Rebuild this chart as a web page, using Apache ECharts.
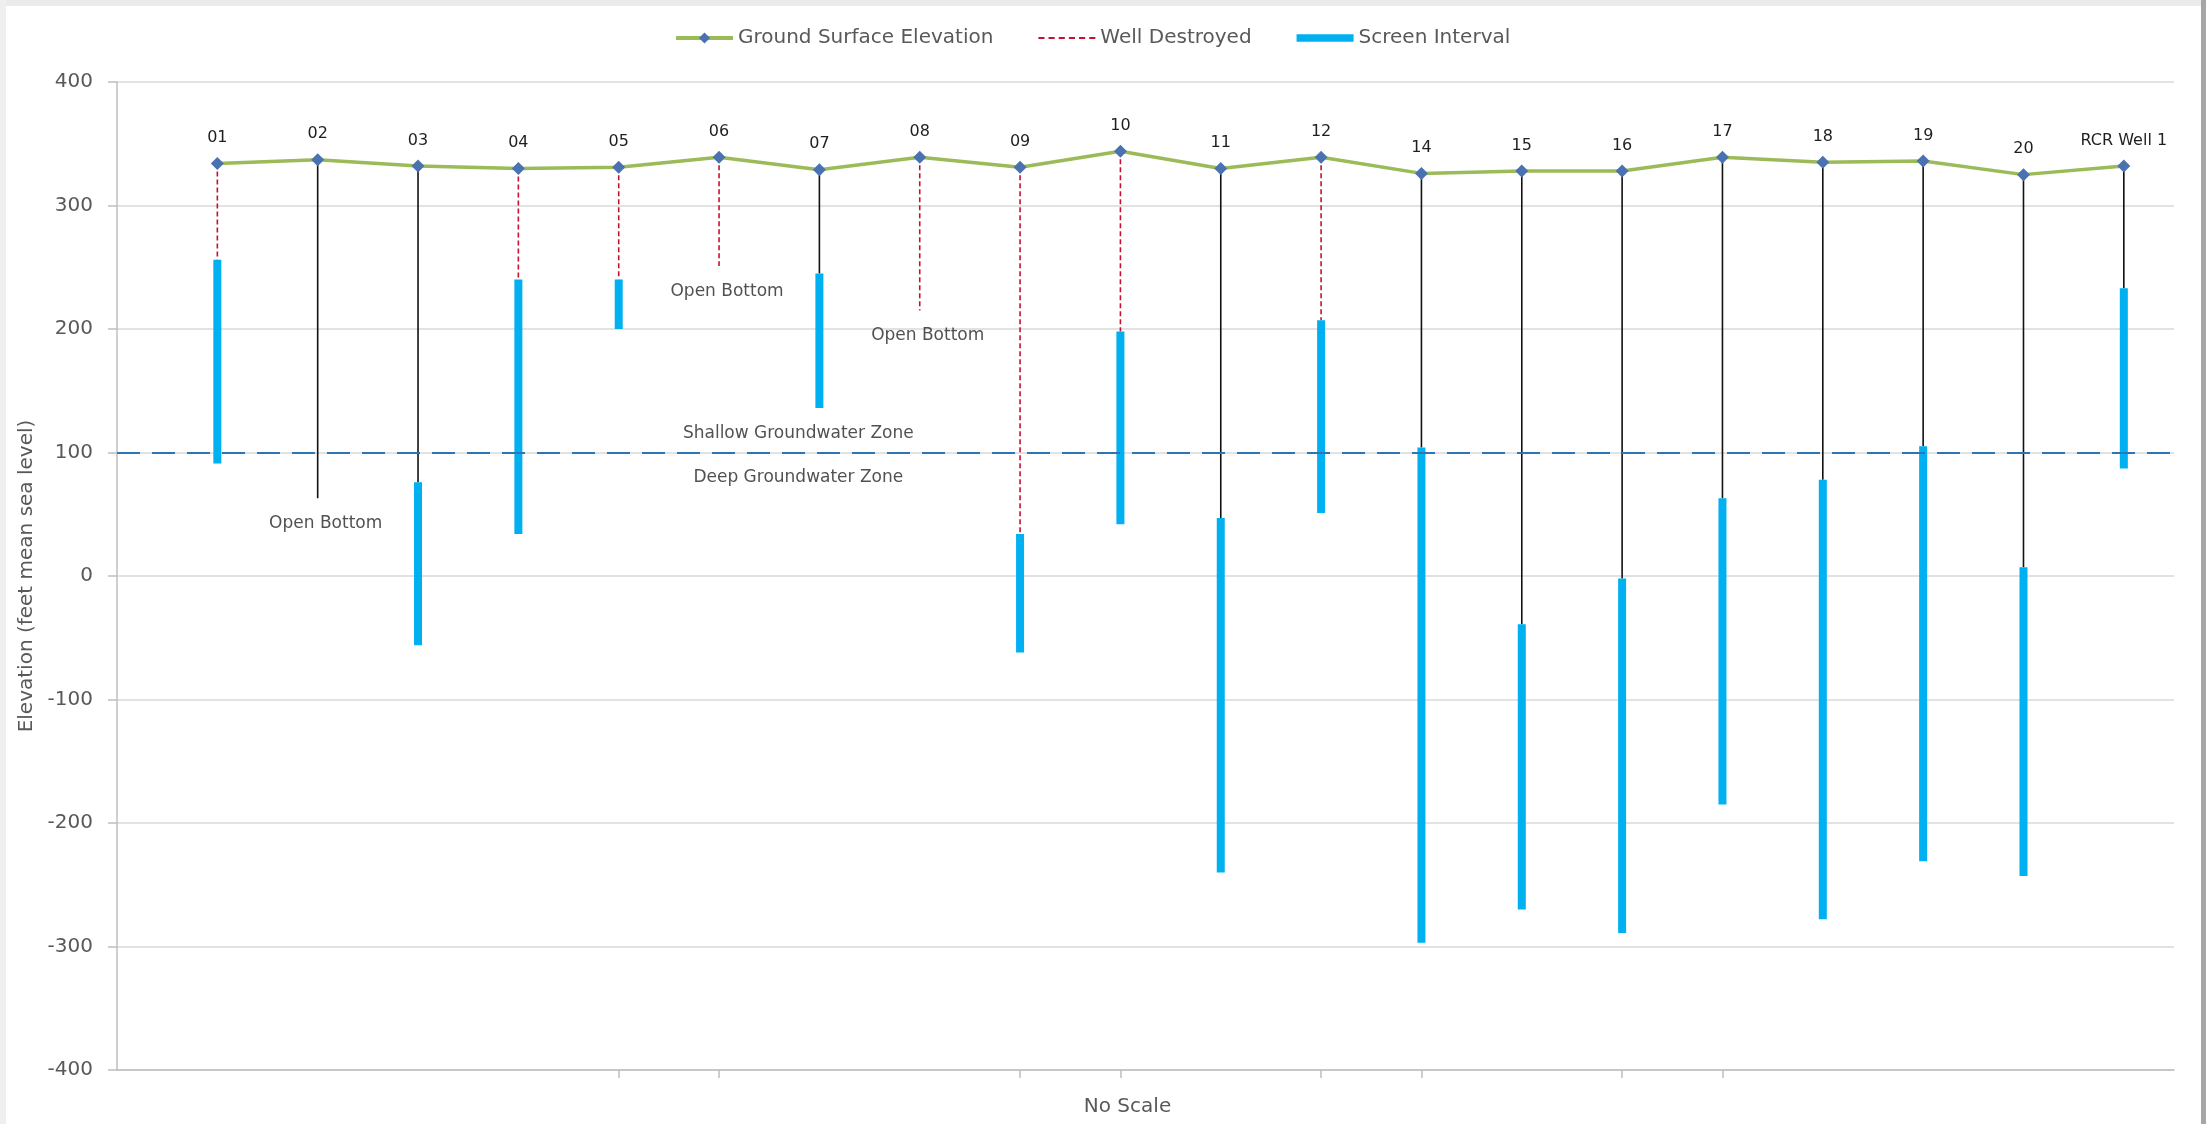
<!DOCTYPE html>
<html>
<head>
<meta charset="utf-8">
<title>Well Construction Elevations</title>
<script src="https://cdn.jsdelivr.net/npm/echarts@6/dist/echarts.min.js"></script>
<style>
  html, body { margin: 0; padding: 0; background: #ffffff; }
  #chart { width: 2206px; height: 1124px; }
</style>
</head>
<body>
<div id="chart"></div>
<script>
// Well identifiers, left to right
const wells = ['01', '02', '03', '04', '05', '06', '07', '08', '09', '10',
               '11', '12', '14', '15', '16', '17', '18', '19', '20', 'RCR Well 1'];

// Ground surface elevation at each well (feet msl)
const groundSurface = [334, 337, 332, 330, 331, 339, 329, 339, 331, 344,
                       330, 339, 326, 328, 328, 339, 335, 336, 325, 332];

// Elevation where the blank casing / open hole ends (feet msl)
const casingBottom = [256, 63, 76, 240, 240, 251, 245, 215, 34, 198,
                      47, 207, 104, -39, -2, 63, 78, 105, 7, 233];

// Screen interval top and bottom (null = no screen)
const screenTop = [256, null, 76, 240, 240, null, 245, null, 34, 198,
                   47, 207, 104, -39, -2, 63, 78, 105, 7, 233];
const screenBottom = [91, null, -56, 34, 200, null, 136, null, -62, 42,
                      -240, 51, -297, -270, -289, -185, -278, -231, -243, 87];

// Wells that have been destroyed
const destroyedWells = ['01', '04', '05', '06', '08', '09', '10', '12'];

// Wells completed as open bottom holes
const openBottomWells = ['02', '06', '08'];

// Boundary between shallow and deep groundwater zones (feet msl)
const zoneBoundary = 100;
const zoneLabelX = 6.79;
const zoneNotes = ['Shallow Groundwater Zone', 'Deep Groundwater Zone'];

// Wells with a tick on the horizontal axis
const axisTickWells = ['05', '06', '09', '10', '12', '14', '16', '17'];

// Vertical axis ticks
const yMin = -400, yMax = 400, yStep = 100;

const FONT = 'DejaVu Sans';
const xOf = i => i + 1;

function segments(filterFn, topArr, bottomArr) {
  const out = [];
  wells.forEach((w, i) => {
    if (!filterFn(w, i)) return;
    if (topArr[i] == null || bottomArr[i] == null) return;
    out.push([xOf(i), topArr[i]], [xOf(i), bottomArr[i]], [xOf(i), null]);
  });
  return out;
}

const intactRisers = segments(w => destroyedWells.indexOf(w) < 0, groundSurface, casingBottom);
const destroyedRisers = segments(w => destroyedWells.indexOf(w) >= 0, groundSurface, casingBottom);
const screens = segments(() => true, screenTop, screenBottom);

// Legend glyphs: a short-dash red line and a solid cyan bar
const dashedIcon = 'path://M0,0H6V2H0Z M10,0H16V2H10Z M20,0H26V2H20Z M30,0H36V2H30Z M40,0H46V2H40Z M50,0H56V2H50Z';
const barIcon = 'path://M0,0H60V8H0Z';

const chart = echarts.init(document.getElementById('chart'), null, { renderer: 'canvas' });

chart.setOption({
  backgroundColor: '#ffffff',
  animation: false,
  textStyle: { fontFamily: FONT },
  graphic: [
    { type: 'rect', shape: { x: 0, y: 0, width: 2206, height: 6 }, style: { fill: '#ebebeb' }, silent: true },
    { type: 'rect', shape: { x: 0, y: 0, width: 6, height: 1124 }, style: { fill: '#efefef' }, silent: true },
    { type: 'rect', shape: { x: 2201, y: 0, width: 5, height: 1124 }, style: { fill: '#a6a6a6' }, silent: true }
  ],
  legend: {
    left: 669,
    top: 23,
    itemWidth: 57,
    itemHeight: 14,
    itemGap: 45,
    data: [
      { name: 'Ground Surface Elevation', lineStyle: { width: 4 } },
      { name: 'Well Destroyed', icon: dashedIcon },
      { name: 'Screen Interval', icon: barIcon }
    ],
    textStyle: { fontFamily: FONT, fontSize: 20, color: '#595959' }
  },
  grid: { left: 117, right: 32, top: 82, bottom: 54 },
  xAxis: {
    type: 'value',
    min: 0,
    max: 20.5,
    name: 'No Scale',
    nameLocation: 'middle',
    nameGap: 27,
    nameTextStyle: { fontFamily: FONT, fontSize: 20, color: '#595959', padding: [0, 36, 0, 0] },
    axisLine: { show: true, onZero: false, lineStyle: { color: '#bfbfbf', width: 1.5 } },
    axisTick: {
      show: true,
      length: 8,
      lineStyle: { color: '#bfbfbf', width: 1.5 },
      customValues: axisTickWells.map(w => xOf(wells.indexOf(w)))
    },
    axisLabel: { show: false },
    splitLine: { show: false }
  },
  yAxis: {
    type: 'value',
    min: yMin,
    max: yMax,
    interval: yStep,
    name: 'Elevation (feet mean sea level)',
    nameLocation: 'middle',
    nameGap: 78,
    nameTextStyle: { fontFamily: FONT, fontSize: 20, color: '#595959' },
    axisLine: { show: true, onZero: false, lineStyle: { color: '#bfbfbf', width: 1.5 } },
    axisTick: { show: true, length: 9, lineStyle: { color: '#bfbfbf', width: 1.5 } },
    axisLabel: { fontFamily: FONT, fontSize: 20, color: '#595959', margin: 24 },
    splitLine: { show: true, lineStyle: { color: '#d9d9d9', width: 1.5 } }
  },
  series: [
    {
      name: 'Casing',
      type: 'line',
      data: intactRisers,
      symbol: 'none',
      connectNulls: false,
      silent: true,
      lineStyle: { color: '#111111', width: 1.6 },
      z: 2
    },
    {
      name: 'Well Destroyed',
      type: 'line',
      data: destroyedRisers,
      symbol: 'none',
      connectNulls: false,
      silent: true,
      color: '#c8102e',
      lineStyle: { color: '#c8102e', width: 1.6, type: [5, 3] },
      z: 2
    },
    {
      name: 'Screen Interval',
      type: 'line',
      data: screens,
      symbol: 'none',
      connectNulls: false,
      silent: true,
      color: '#00b0f0',
      lineStyle: { color: '#00b0f0', width: 8, cap: 'butt' },
      z: 3
    },
    {
      name: 'Ground Surface Elevation',
      type: 'line',
      data: wells.map((w, i) => [xOf(i), groundSurface[i]]),
      symbol: 'diamond',
      symbolSize: 13,
      color: '#4a72b0',
      itemStyle: { color: '#4a72b0' },
      lineStyle: { color: '#9bbb59', width: 3.5 },
      label: {
        show: true,
        position: 'top',
        distance: 11,
        fontFamily: FONT,
        fontSize: 16,
        color: '#1f1f1f',
        formatter: p => wells[p.dataIndex]
      },
      z: 5
    },
    {
      name: 'Open Bottom Notes',
      type: 'scatter',
      symbolSize: 0,
      silent: true,
      data: openBottomWells.map(w => {
        const i = wells.indexOf(w);
        return [xOf(i), casingBottom[i]];
      }),
      label: {
        show: true,
        position: 'bottom',
        distance: 17,
        offset: [8, 0],
        fontFamily: FONT,
        fontSize: 17,
        color: '#262626',
        formatter: 'Open Bottom'
      },
      z: 4
    },
    {
      name: 'Zone Notes',
      type: 'scatter',
      symbolSize: 0,
      silent: true,
      data: zoneNotes.map((text, k) => ({
        value: [zoneLabelX, zoneBoundary],
        label: {
          show: true,
          position: k === 0 ? 'top' : 'bottom',
          distance: k === 0 ? 10 : 17,
          fontFamily: FONT,
          fontSize: 17,
          color: '#262626',
          formatter: text
        }
      })),
      markLine: {
        silent: true,
        symbol: 'none',
        label: { show: false },
        lineStyle: { color: '#2e75b6', width: 2, type: [23, 12] },
        data: [{ yAxis: zoneBoundary }]
      },
      z: 1
    }
  ]
});
</script>
</body>
</html>
